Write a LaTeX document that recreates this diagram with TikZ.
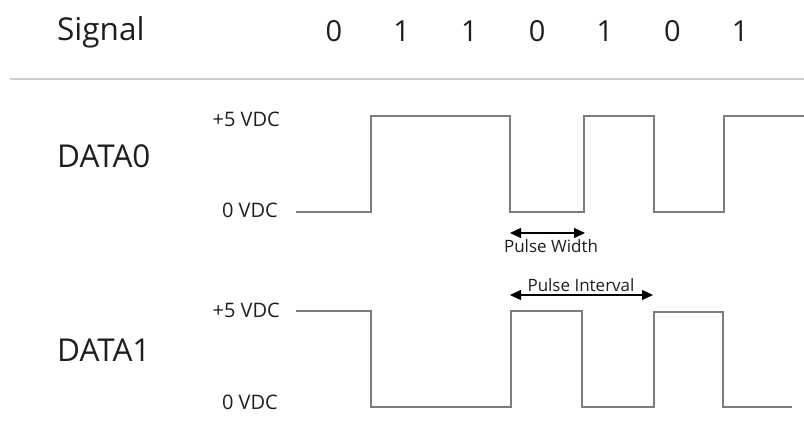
\documentclass[tikz,border=0pt]{standalone}
\usepackage{fontspec}
\setmainfont{Open Sans}
\usetikzlibrary{arrows.meta}
\definecolor{wave}{RGB}{125,125,125}
\definecolor{rule}{RGB}{205,205,205}
\definecolor{txt}{RGB}{30,30,30}
\tikzset{
  biglbl/.style={inner sep=0pt, text=txt, font=\fontsize{31.5}{33}\selectfont},
  digit/.style={inner sep=0pt, anchor=base, text=txt, font=\fontsize{29}{31}\selectfont},
  vlbl/.style={inner sep=0pt, anchor=base east, text=txt, font=\fontsize{20}{22}\selectfont},
  plbl/.style={inner sep=0pt, anchor=base, text=txt, font=\fontsize{17}{19}\selectfont},
  wavepath/.style={draw=wave, line width=2pt},
  dimarrow/.style={draw=black, line width=1.2pt, {Triangle[length=11pt,width=10pt]}-{Triangle[length=11pt,width=10pt]}}
}
\begin{document}
\begin{tikzpicture}[x=1pt,y=-1pt]
\useasboundingbox (0,0) rectangle (804,435);
% header
\node[biglbl, anchor=base west] (signal) at (57,41) {Signal};
\foreach \d [count=\i] in {0,1,1,0,1,0,1} {
  \node[digit] (d\i) at ({334+67.7*(\i-1)},42) {\d};
}
\coordinate (ruleL) at (10,79);
\coordinate (ruleR) at (804,79);
\draw[draw=rule, line width=2pt] (ruleL) -- (ruleR);
% DATA0
\node[biglbl, anchor=base west] (data0) at (57,168) {DATA0};
\node[vlbl] (hi0) at (280,127) {+5 VDC};
\node[vlbl] (lo0) at (278,218) {0 VDC};
\draw[wavepath] (296,212) -- (371,212) -- (371,116) -- (510,116) -- (510,212)
  -- (584,212) -- (584,116) -- (654,116) -- (654,212) -- (724,212) -- (724,116) -- (806,116);
% Pulse width
\coordinate (pw1) at (510,233);
\coordinate (pw2) at (585,233);
\draw[dimarrow] (pw1) -- (pw2);
\node[plbl] (pwl) at (551,253) {Pulse Width};
% Pulse interval
\coordinate (pi1) at (510,295);
\coordinate (pi2) at (653,295);
\draw[dimarrow] (pi1) -- (pi2);
\node[plbl] (pil) at (581,292) {Pulse Interval};
% DATA1
\node[biglbl, anchor=base west] (data1) at (57,362) {DATA1};
\node[vlbl] (hi1) at (280,318) {+5 VDC};
\node[vlbl] (lo1) at (278,410) {0 VDC};
\draw[wavepath] (296,311) -- (371,311) -- (371,407) -- (511,407) -- (511,311)
  -- (582,311) -- (582,407) -- (654,407) -- (654,312) -- (723,312) -- (723,407) -- (792,407);
\end{tikzpicture}
\end{document}
